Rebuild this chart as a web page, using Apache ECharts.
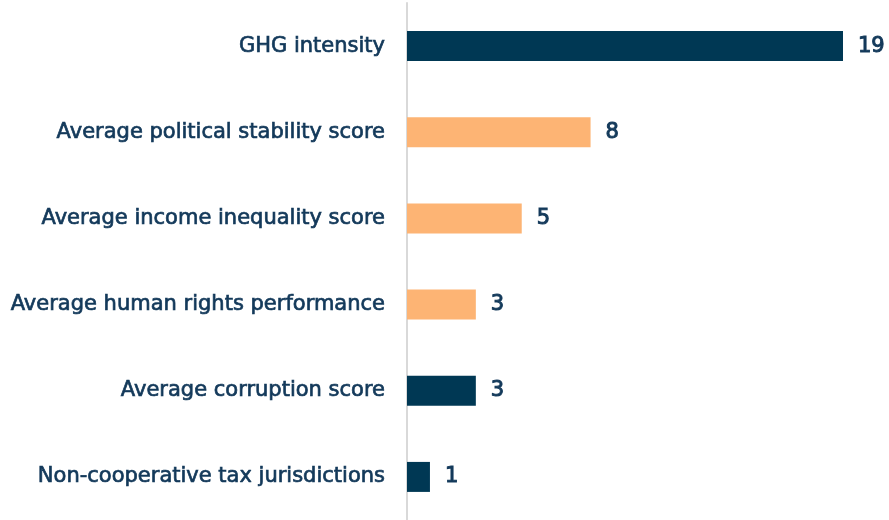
<!DOCTYPE html>
<html>
<head>
<meta charset="utf-8">
<script src="https://cdn.jsdelivr.net/npm/echarts@6/dist/echarts.min.js"></script>
<style>
  html, body { margin: 0; padding: 0; background: #fff; }
  #chart { width: 889px; height: 520px; }
</style>
</head>
<body>
<div id="chart"></div>
<script>
// data
var categories = [
    'GHG intensity',
    'Average political stability score',
    'Average income inequality score',
    'Average human rights performance',
    'Average corruption score',
    'Non-cooperative tax jurisdictions'
]
var values = [19, 8, 5, 3, 3, 1]
var barColors = ['#003854', '#fdb474', '#fdb474', '#fdb474', '#003854', '#003854']

var textColor = '#13395a'
var myChart = echarts.init(document.getElementById('chart'))

var option = {
    animation: false,
    grid: { left: 407, right: 46, top: 3, bottom: 0 },
    xAxis: {
        type: 'value',
        min: 0,
        max: 19,
        show: false
    },
    yAxis: {
        type: 'category',
        data: categories,
        inverse: true,
        axisLine: { show: true, lineStyle: { color: '#d9d9d9', width: 2 } },
        axisTick: { show: false },
        axisLabel: {
            margin: 22,
            color: textColor,
            fontFamily: 'DejaVu Sans',
            fontSize: 21,
            fontWeight: 'normal',
            textBorderColor: textColor,
            textBorderWidth: 0.7
        }
    },
    series: [{
        type: 'bar',
        barWidth: 30,
        data: values.map(function (v, i) {
            return { value: v, itemStyle: { color: barColors[i] } }
        }),
        label: {
            show: true,
            position: 'right',
            distance: 15,
            color: textColor,
            fontFamily: 'DejaVu Sans',
            fontSize: 21,
            fontWeight: 'normal',
            textBorderColor: textColor,
            textBorderWidth: 1
        }
    }]
}
myChart.setOption(option)
</script>
</body>
</html>
